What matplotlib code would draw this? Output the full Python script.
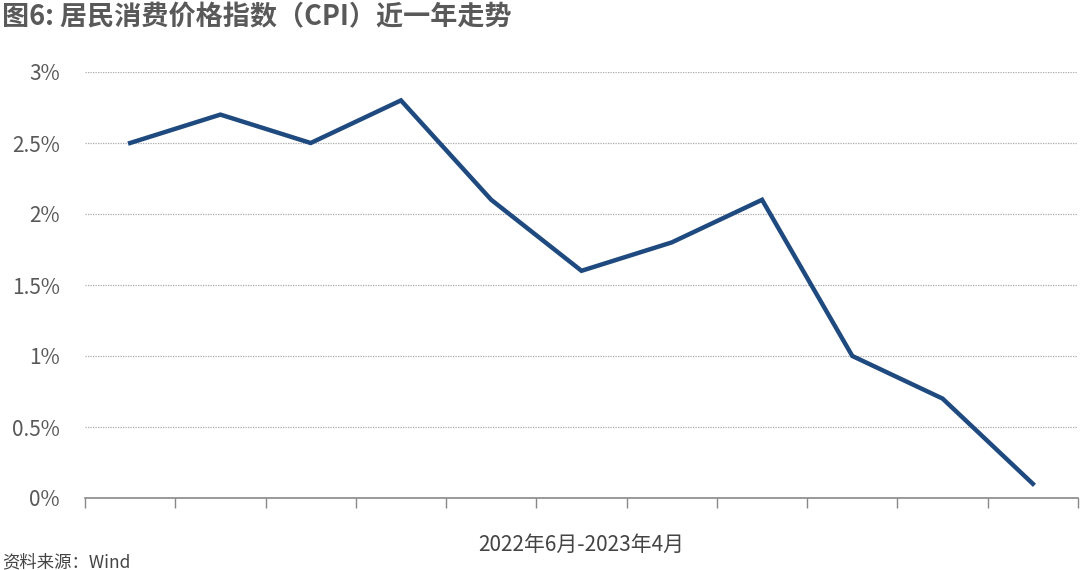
import matplotlib
matplotlib.use("Agg")
import matplotlib.pyplot as plt

plt.rcParams['font.family'] = ['Noto Sans CJK SC', 'DejaVu Sans']

months = ["2022-06", "2022-07", "2022-08", "2022-09", "2022-10", "2022-11",
          "2022-12", "2023-01", "2023-02", "2023-03", "2023-04"]
cpi = [2.5, 2.7, 2.5, 2.8, 2.1, 1.6, 1.8, 2.1, 1.0, 0.7, 0.1]
yticks = [0, 0.5, 1, 1.5, 2, 2.5, 3]
ytick_labels = ["0%", "0.5%", "1%", "1.5%", "2%", "2.5%", "3%"]

title = "图6: 居民消费价格指数（CPI）近一年走势"
xlabel = "2022年6月-2023年4月"
source = "资料来源：Wind"

grey = "#595959"
fig = plt.figure(figsize=(10.8, 5.7), dpi=100)
ax = fig.add_axes([85/1080, 1-498/570, (1078-85)/1080, (498-72)/570])

x = list(range(len(months)))
ax.plot(x, cpi, color="#1f4a7f", linewidth=3.2, solid_joinstyle="miter", zorder=3)

ax.set_xlim(-0.5, len(months) - 0.5)
ax.set_ylim(0, 3)
ax.set_yticks(yticks)
ax.set_yticklabels(ytick_labels, fontsize=15, color=grey)
ax.tick_params(axis='y', length=0, pad=18)
ax.set_xticks([i - 0.5 for i in range(len(months) + 1)])
ax.set_xticklabels([])
ax.tick_params(axis='x', length=7, width=1, color="#888888", direction='out')

for y in yticks[1:]:
    ax.axhline(y, color="#aaaaaa", linewidth=0.9, linestyle=(0, (1, 1)), zorder=1)

for s in ["top", "right", "left"]:
    ax.spines[s].set_visible(False)
ax.spines["bottom"].set_color("#888888")
ax.spines["bottom"].set_linewidth(1.2)

fig.text(581/1080, 1-545/570, xlabel, ha='center', va='center', fontsize=15, color="#444444")
fig.text(2/1080, 1-562/570, source, ha='left', va='center', fontsize=12.5, color="#444444", style='italic')
fig.text(2/1080, 1-17/570, title, ha='left', va='center', fontsize=19.5, color=grey, fontweight='bold')

fig.savefig("out.png", dpi=100)
